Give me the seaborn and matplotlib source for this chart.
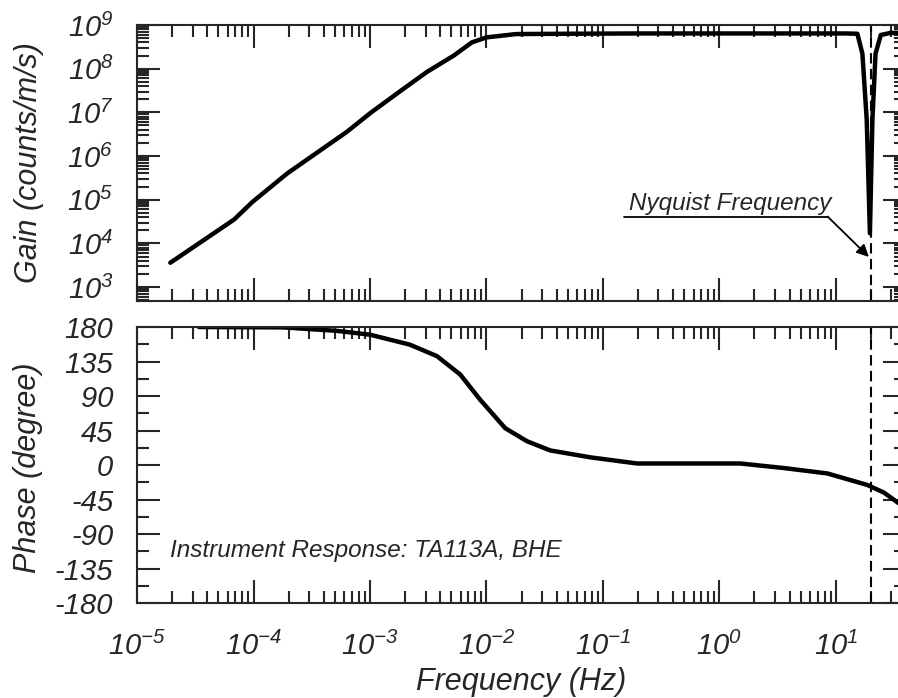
import numpy as np
import pandas as pd
import matplotlib
matplotlib.use("Agg")
import matplotlib.pyplot as plt
import matplotlib.ticker as mticker
import seaborn as sns

# gain curve
gain_freq = [1.93e-5, 6.8e-5, 9.8e-5, 1.95e-4, 6.35e-4, 1.0e-3, 1.95e-3, 3.1e-3,
             5.25e-3, 7.5e-3, 1.0e-2, 1.8e-2, 5e-2, 0.2, 1.0, 5.0, 12.0,
             15.3, 16.9, 18.4, 19.6, 20.6, 21.9, 24.3, 29.5, 34.0]
gain = [3.6e3, 3.5e4, 8.9e4, 4.0e5, 3.6e6, 9.5e6, 3.5e7, 8.5e7,
        2.0e8, 4.0e8, 5.2e8, 6.2e8, 6.3e8, 6.4e8, 6.4e8, 6.4e8, 6.4e8,
        6.3e8, 2.2e8, 6.8e6, 1.7e4, 6.8e6, 2.2e8, 5.9e8, 6.6e8, 6.6e8]

# phase curve
phase_freq = [3.4e-5, 1.8e-4, 5.2e-4, 1.0e-3, 2.2e-3, 3.76e-3, 5.96e-3, 8.85e-3,
              1.45e-2, 2.23e-2, 3.53e-2, 7.8e-2, 0.196, 1.51, 3.59, 8.45,
              18.6, 25.9, 34.7]
phase = [180, 179.5, 175, 170, 157, 142, 118, 85,
         48, 31, 19, 10, 2, 2, -4, -11,
         -26, -36, -50]

nyquist = 20.0
phase_ticks = [180, 135, 90, 45, 0, -45, -90, -135, -180]

gain_df = pd.DataFrame({"freq": gain_freq, "gain": gain})
phase_df = pd.DataFrame({"freq": phase_freq, "phase": phase})

sns.set_style("ticks")
plt.rcParams["font.family"] = ["Liberation Sans", "DejaVu Sans"]
plt.rcParams["font.style"] = "italic"
plt.rcParams["axes.linewidth"] = 1.5
plt.rcParams["axes.unicode_minus"] = False

TICK_FS = 21
LABEL_FS = 22
NOTE_FS = 17.5

fig = plt.figure(figsize=(8.98, 6.98), dpi=100)
ax1 = fig.add_axes([0.1526, 0.5688, 0.8563, 0.3954])
ax2 = fig.add_axes([0.1526, 0.1361, 0.8563, 0.3954])

sns.lineplot(data=gain_df, x="freq", y="gain", ax=ax1, color="black",
             linewidth=3.2, sort=False)
sns.lineplot(data=phase_df, x="freq", y="phase", ax=ax2, color="black",
             linewidth=3.2, sort=False)

for ax in (ax1, ax2):
    ax.set_xscale("log")
    ax.set_xlim(1e-5, 40)
    ax.axvline(nyquist, color="black", lw=1.5, ls=(0, (5, 2.6)))
    ax.tick_params(which="both", direction="in", top=True, right=True,
                   width=1.5, labelsize=TICK_FS)
    ax.tick_params(which="major", length=16.5)
    ax.tick_params(which="minor", length=8.5)
    ax.xaxis.set_major_locator(mticker.LogLocator(base=10, numticks=20))
    ax.xaxis.set_minor_locator(mticker.LogLocator(base=10, subs=np.arange(2, 10), numticks=20))
    ax.xaxis.set_minor_formatter(mticker.NullFormatter())

# top panel: gain
ax1.set_yscale("log")
ax1.set_ylim(480, 1e9)
ax1.yaxis.set_major_locator(mticker.LogLocator(base=10, numticks=20))
ax1.yaxis.set_minor_locator(mticker.LogLocator(base=10, subs=np.arange(2, 10), numticks=20))
ax1.yaxis.set_minor_formatter(mticker.NullFormatter())
ax1.tick_params(axis="x", labelbottom=False)
ax1.tick_params(axis="y", pad=17)
ax1.set_xlabel("")
ax1.set_ylabel("Gain (counts/m/s)", fontsize=LABEL_FS, va="center")
ax1.yaxis.set_label_coords(-0.140, 0.5)

ax1.text(0.167, 5.9e4, "Nyquist Frequency", fontsize=NOTE_FS, va="baseline")
ax1.plot([0.151, 8.5], [4.1e4, 4.1e4], color="black", lw=1.3)
ax1.annotate("", xy=(19.2, 4.9e3), xytext=(8.5, 4.1e4),
             arrowprops=dict(arrowstyle="-|>", color="black", lw=1.3,
                             mutation_scale=18, shrinkA=0, shrinkB=0))

# bottom panel: phase
ax2.set_ylim(-180, 180)
ax2.set_yticks(phase_ticks)
ax2.yaxis.set_minor_locator(mticker.MultipleLocator(22.5))
ax2.tick_params(axis="y", pad=17)
ax2.tick_params(axis="x", pad=21)
ax2.set_ylabel("Phase (degree)", fontsize=LABEL_FS, va="center")
ax2.yaxis.set_label_coords(-0.142, 0.49)
ax2.set_xlabel("Frequency (Hz)", fontsize=LABEL_FS)
ax2.xaxis.set_label_coords(0.5, -0.286)
ax2.xaxis.label.set_va("center")
ax2.text(0.043, 0.167, "Instrument Response: TA113A, BHE", fontsize=NOTE_FS,
         transform=ax2.transAxes, va="baseline")

for t in ax1.get_xticklabels() + ax1.get_yticklabels() + ax2.get_xticklabels() + ax2.get_yticklabels():
    t.set_fontstyle("italic")

fig.savefig("out.png", dpi=100)
